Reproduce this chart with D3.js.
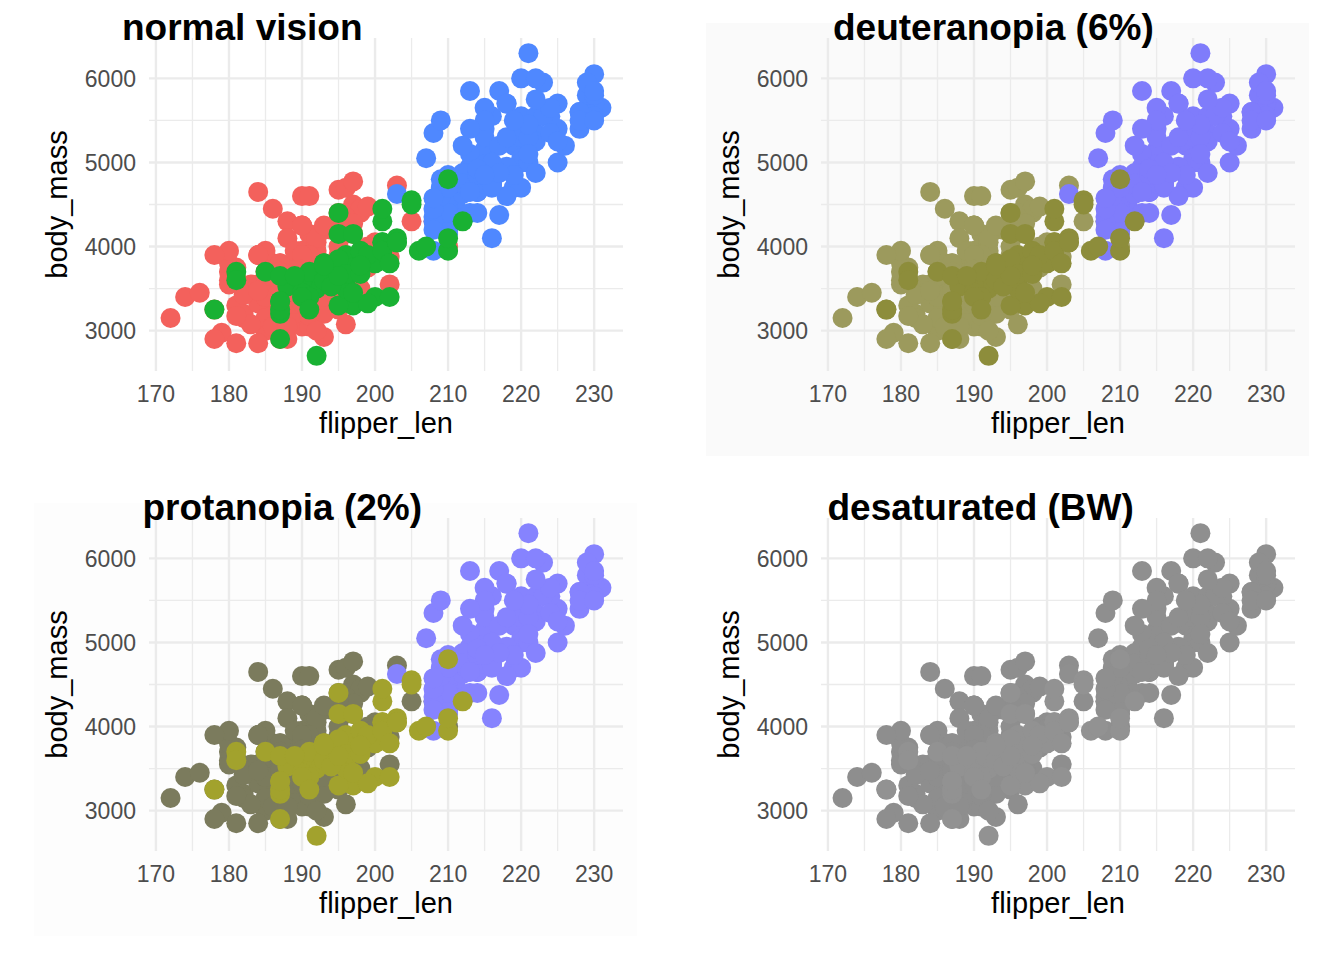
<!DOCTYPE html>
<html>
<head>
<meta charset="utf-8">
<script src="https://cdn.jsdelivr.net/npm/d3@7"></script>
<style>
  body { margin: 0; background: #fff; }
  svg { display: block; }
</style>
</head>
<body>
<div class="chart"></div>
<script>
const WIDTH = 1344;
const HEIGHT = 960;
const FONT = '"Liberation Sans", Arial, Helvetica, sans-serif';

// penguins: flipper length (mm) and body mass (g), in data order
const adelieFlipper = [181, 186, 195, 193, 190, 181, 195, 193, 190, 186, 180, 182, 191, 198, 185, 195, 197, 184, 194, 174,
  180, 189, 185, 180, 187, 183, 187, 172, 180, 178, 178, 188, 184, 195, 196, 190, 180, 181, 184, 182,
  195, 186, 196, 185, 190, 182, 179, 190, 191, 186, 188, 190, 200, 187, 191, 186, 193, 181, 194, 185,
  195, 185, 192, 184, 192, 195, 188, 190, 198, 190, 190, 196, 197, 190, 195, 191, 184, 187, 195, 189,
  196, 187, 193, 191, 194, 190, 189, 189, 190, 202, 205, 185, 186, 187, 208, 190, 196, 178, 192, 192,
  203, 183, 190, 193, 184, 199, 190, 181, 197, 198, 191, 193, 197, 191, 196, 188, 199, 189, 189, 187,
  198, 176, 202, 186, 199, 191, 195, 191, 210, 190, 197, 193, 199, 187, 190, 191, 200, 185, 193, 193,
  187, 188, 190, 192, 185, 190, 184, 195, 193, 187, 201];
const adelieMass = [3750, 3800, 3250, 3450, 3650, 3625, 4675, 3475, 4250, 3300, 3700, 3200, 3800, 4400, 3700, 3450, 4500, 3325, 4200, 3400,
  3600, 3800, 3950, 3800, 3800, 3550, 3200, 3150, 3950, 3250, 3900, 3300, 3900, 3325, 4150, 3950, 3550, 3300, 4650, 3150,
  3900, 3100, 4400, 3000, 4600, 3425, 2975, 3450, 4150, 3500, 4300, 3450, 4050, 2900, 3700, 3550, 3800, 2850, 3750, 3150,
  4400, 3600, 4050, 2850, 3950, 3350, 4100, 3050, 4450, 3600, 3900, 3550, 4150, 3700, 4250, 3700, 3900, 3550, 4000, 3200,
  4700, 3800, 4200, 3350, 3550, 3800, 3500, 3950, 3600, 3550, 4300, 3400, 4450, 3300, 4300, 3700, 4350, 2900, 4100, 3725,
  4725, 3075, 4250, 2925, 3550, 3750, 3900, 3175, 4775, 3825, 4600, 3200, 4275, 3900, 3075, 2900, 3775, 3350, 3325, 3150,
  3500, 3450, 3875, 3050, 4000, 3275, 4300, 3050, 4000, 3325, 3500, 3500, 4475, 3425, 3900, 3175, 3975, 3400, 4250, 3400,
  3475, 3050, 3725, 3000, 3650, 4250, 3475, 3450, 3750, 3700, 4000];

const gentooFlipper = [211, 230, 210, 218, 215, 210, 211, 219, 209, 215, 214, 216, 214, 213, 210, 217, 210, 221, 209, 222,
  218, 215, 213, 215, 215, 215, 216, 215, 210, 220, 222, 209, 207, 230, 220, 220, 213, 219, 208, 208,
  208, 225, 210, 216, 222, 217, 210, 225, 213, 215, 210, 220, 210, 225, 217, 220, 208, 220, 208, 224,
  208, 221, 214, 231, 219, 230, 214, 229, 220, 223, 216, 221, 221, 217, 216, 230, 209, 220, 215, 223,
  212, 221, 212, 224, 212, 228, 218, 218, 212, 230, 218, 228, 212, 224, 214, 226, 216, 222, 203, 225,
  219, 228, 215, 228, 216, 215, 210, 219, 208, 209, 216, 229, 213, 230, 217, 230, 217, 222, 214, 215,
  222, 212, 213];
const gentooMass = [4500, 5700, 4450, 5700, 5400, 4550, 4800, 5200, 4400, 5150, 4650, 5550, 4650, 5850, 4200, 5850, 4150, 6300, 4800, 5350,
  5700, 5000, 4400, 5050, 5000, 5100, 4100, 5650, 4600, 5550, 5250, 4700, 5050, 6050, 5150, 5400, 4950, 5250, 4350, 5350,
  3950, 5700, 4300, 4750, 5550, 4900, 4200, 5400, 5100, 5300, 4850, 5300, 4400, 5000, 4900, 5050, 4300, 5000, 4450, 5550,
  4200, 5300, 4400, 5650, 4700, 5700, 4650, 5800, 4700, 5550, 4750, 5000, 5100, 5200, 4700, 5800, 4600, 6000, 4750, 5950,
  4625, 5450, 4725, 5350, 4750, 5600, 4600, 5300, 4875, 5550, 4950, 5400, 4750, 5650, 4850, 5200, 4925, 4875, 4625, 5250,
  4850, 5600, 4975, 5500, 4725, 5500, 4700, 5500, 4575, 5500, 5000, 5950, 4650, 5500, 4375, 5850, 4875, 6000, 4925, 4850,
  5750, 5200, 5400];

const chinstrapFlipper = [192, 196, 193, 188, 197, 198, 178, 197, 195, 198, 193, 194, 185, 201, 190, 201, 197, 181, 190, 195,
  181, 191, 187, 193, 195, 197, 200, 200, 191, 205, 187, 201, 187, 203, 195, 199, 195, 210, 192, 205,
  210, 187, 196, 196, 196, 201, 190, 212, 187, 198, 199, 201, 193, 203, 187, 197, 191, 203, 202, 194,
  206, 189, 195, 207, 202, 193, 210, 198];
const chinstrapMass = [3500, 3900, 3650, 3525, 3725, 3950, 3250, 3750, 4150, 3700, 3800, 3775, 3700, 4050, 3575, 4050, 3300, 3700, 3450, 4400,
  3600, 3400, 2900, 3800, 3300, 4150, 3400, 3800, 3700, 4550, 3200, 4300, 3350, 4100, 3600, 3900, 3850, 4800, 2700, 4500,
  3950, 3650, 3550, 3500, 3675, 4450, 3400, 4300, 3250, 3675, 3325, 3950, 3600, 4050, 3350, 3450, 3250, 4050, 3800, 3525,
  3950, 3650, 3650, 4000, 3400, 3775, 4100, 3775];

// drawing order follows the data: Adelie, Gentoo, Chinstrap
const species = ['Adelie', 'Gentoo', 'Chinstrap'];
const flippers = [adelieFlipper, gentooFlipper, chinstrapFlipper];
const masses = [adelieMass, gentooMass, chinstrapMass];

const panelTitles = ['normal vision', 'deuteranopia (6%)', 'protanopia (2%)', 'desaturated (BW)'];
// colours per panel, in species order above
const palettes = [
  ['#F3615C', '#4F88FF', '#19B133'],
  ['#9C9A5D', '#7F7CFB', '#8D8D3B'],
  ['#7B7B5D', '#8683FE', '#A2A22D'],
  ['#8E8E8E', '#8F8F8F', '#929292'],
];
const panelFills = ['#FFFFFF', '#FAFAFA', '#FDFDFD', '#FFFFFF'];

const xMajor = [170, 180, 190, 200, 210, 220, 230];
const xMinor = [175, 185, 195, 205, 215, 225];
const yMajor = [3000, 4000, 5000, 6000];
const yMinor = [3500, 4500, 5500];

// layout of one panel (local coordinates)
const PANEL = { left: 149, right: 623, top: 38, bottom: 371 };
const OFFSETS = [[0, 0], [672, 0], [0, 480], [672, 480]];
const TITLE_X = [122, 161, 142.5, 155.5];
const POINT_R = 10;

const x = d3.scaleLinear().domain([169.05, 233.95]).range([PANEL.left, PANEL.right]);
const y = d3.scaleLinear().domain([2520, 6480]).range([PANEL.bottom, PANEL.top]);

const svg = d3.select('.chart')
  .append('svg')
  .attr('width', WIDTH)
  .attr('height', HEIGHT);

svg.append('rect')
  .attr('width', WIDTH)
  .attr('height', HEIGHT)
  .attr('fill', '#fff');

function drawPanel(i) {
  const [dx, dy] = OFFSETS[i];
  const g = svg.append('g').attr('transform', `translate(${dx}, ${dy})`);

  // image background of the panel
  if (panelFills[i] !== '#FFFFFF') {
    g.append('rect')
      .attr('x', 34)
      .attr('y', 23)
      .attr('width', 603)
      .attr('height', 433)
      .attr('fill', panelFills[i]);
  }

  // grid
  const grid = g.append('g');
  grid.selectAll('.xminor').data(xMinor).enter().append('line')
    .attr('x1', (d) => x(d)).attr('x2', (d) => x(d))
    .attr('y1', PANEL.top).attr('y2', PANEL.bottom)
    .attr('stroke', '#EBEBEB').attr('stroke-width', 1.3);
  grid.selectAll('.yminor').data(yMinor).enter().append('line')
    .attr('x1', PANEL.left).attr('x2', PANEL.right)
    .attr('y1', (d) => y(d)).attr('y2', (d) => y(d))
    .attr('stroke', '#EBEBEB').attr('stroke-width', 1.3);
  grid.selectAll('.xmajor').data(xMajor).enter().append('line')
    .attr('x1', (d) => x(d)).attr('x2', (d) => x(d))
    .attr('y1', PANEL.top).attr('y2', PANEL.bottom)
    .attr('stroke', '#EBEBEB').attr('stroke-width', 2.4);
  grid.selectAll('.ymajor').data(yMajor).enter().append('line')
    .attr('x1', PANEL.left).attr('x2', PANEL.right)
    .attr('y1', (d) => y(d)).attr('y2', (d) => y(d))
    .attr('stroke', '#EBEBEB').attr('stroke-width', 2.4);

  // points, species after species
  species.forEach((name, s) => {
    const pts = flippers[s].map((f, k) => ({ f, m: masses[s][k] }));
    g.append('g')
      .selectAll('circle')
      .data(pts)
      .enter()
      .append('circle')
      .attr('cx', (d) => x(d.f))
      .attr('cy', (d) => y(d.m))
      .attr('r', POINT_R)
      .attr('fill', palettes[i][s]);
  });

  // tick labels
  g.selectAll('.xlab').data(xMajor).enter().append('text')
    .attr('x', (d) => x(d))
    .attr('y', 401.5)
    .attr('text-anchor', 'middle')
    .style('font-family', FONT)
    .style('font-size', '23px')
    .style('fill', '#4D4D4D')
    .text((d) => d);
  g.selectAll('.ylab').data(yMajor).enter().append('text')
    .attr('x', 136)
    .attr('y', (d) => y(d) + 8.3)
    .attr('text-anchor', 'end')
    .style('font-family', FONT)
    .style('font-size', '23px')
    .style('fill', '#4D4D4D')
    .text((d) => d);

  // axis titles
  g.append('text')
    .attr('x', (PANEL.left + PANEL.right) / 2)
    .attr('y', 433)
    .attr('text-anchor', 'middle')
    .style('font-family', FONT)
    .style('font-size', '29px')
    .style('fill', '#000')
    .text('flipper_len');
  g.append('text')
    .attr('transform', `translate(67, ${(PANEL.top + PANEL.bottom) / 2}) rotate(-90)`)
    .attr('text-anchor', 'middle')
    .style('font-family', FONT)
    .style('font-size', '29px')
    .style('fill', '#000')
    .text('body_mass');

  // panel title
  g.append('text')
    .attr('x', TITLE_X[i])
    .attr('y', 40)
    .style('font-family', FONT)
    .style('font-size', '37px')
    .style('font-weight', 'bold')
    .style('fill', '#000')
    .text(panelTitles[i]);
}

panelTitles.forEach((t, i) => drawPanel(i));
</script>
</body>
</html>
